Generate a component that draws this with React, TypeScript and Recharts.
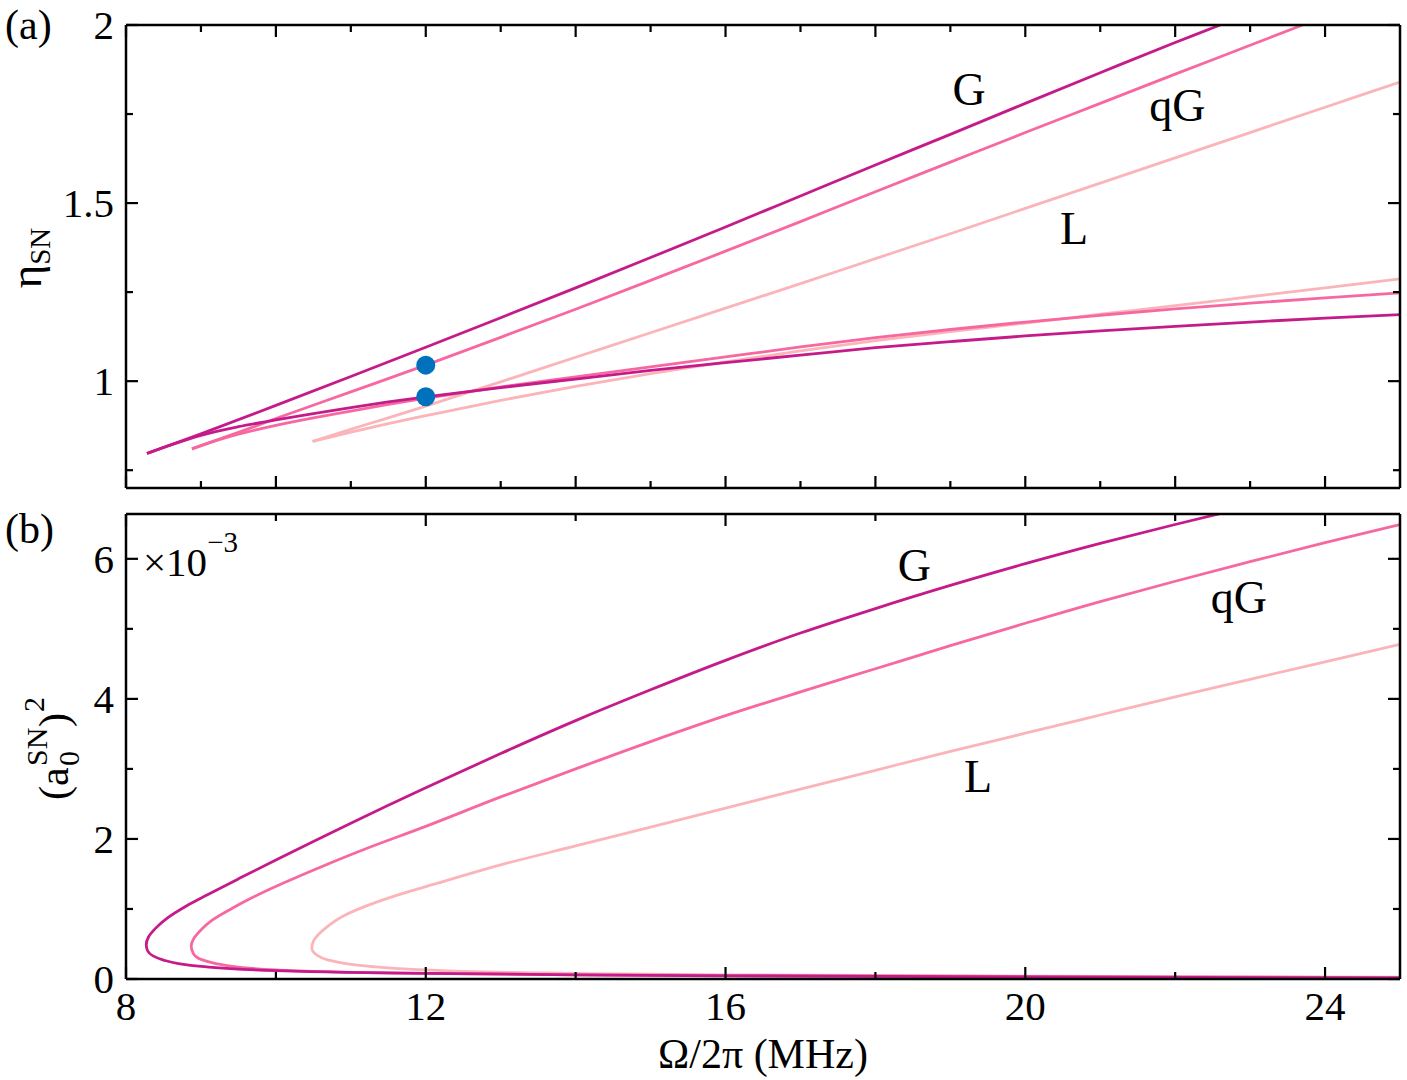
import React from 'react';
import { ComposedChart, Line, XAxis, YAxis, Scatter, ReferenceDot } from 'recharts';

const COL_G = '#C51B8A';
const COL_QG = '#F768A1';
const COL_L = '#FBB4B9';
const COL_DOT = '#0072BD';
const FONT = '"Liberation Serif", "DejaVu Serif", serif';

// ---- panel (a): eta_SN vs Omega/2pi (MHz), [omega, eta] ----
const etaGUpper: [number, number][] = [
  [8.28, 0.797], [9, 0.852], [10, 0.932], [11, 1.013], [12, 1.095], [13, 1.178], [14, 1.262],
  [15, 1.347], [16, 1.433], [17, 1.52], [18, 1.607], [19, 1.693], [20, 1.78], [21, 1.866],
  [22, 1.951], [22.6, 2.0], [23, 2.034],
];
const etaGLower: [number, number][] = [
  [8.28, 0.797], [8.6, 0.821], [9, 0.848], [9.5, 0.872], [10, 0.891], [10.5, 0.909], [11, 0.926],
  [11.5, 0.942], [12, 0.956], [13, 0.982], [14, 1.006], [15, 1.03], [16, 1.052], [17, 1.073],
  [18, 1.094], [19, 1.111], [20, 1.127], [21, 1.141], [22, 1.154], [23, 1.166], [24, 1.177], [25, 1.187],
];
const etaQGUpper: [number, number][] = [
  [8.88, 0.81], [9.5, 0.856], [10, 0.895], [11, 0.97], [12, 1.045], [13, 1.123], [14, 1.202],
  [15, 1.283], [16, 1.365], [17, 1.448], [18, 1.532], [19, 1.615], [20, 1.698], [21, 1.78],
  [22, 1.862], [23, 1.943], [23.7, 2.0], [24, 2.024],
];
const etaQGLower: [number, number][] = [
  [8.88, 0.81], [9.2, 0.833], [9.5, 0.851], [10, 0.876], [10.5, 0.897], [11, 0.916], [11.5, 0.935],
  [12, 0.952], [13, 0.984], [14, 1.012], [15, 1.04], [16, 1.068], [17, 1.096], [18, 1.122],
  [19, 1.145], [20, 1.166], [21, 1.185], [22, 1.203], [23, 1.219], [24, 1.234], [25, 1.248],
];
const etaLUpper: [number, number][] = [
  [10.49, 0.831], [11, 0.865], [11.5, 0.897], [12, 0.93], [13, 0.998], [14, 1.067], [15, 1.136],
  [16, 1.205], [17, 1.274], [18, 1.344], [19, 1.414], [20, 1.485], [21, 1.556], [22, 1.627],
  [23, 1.698], [24, 1.769], [25, 1.84],
];
const etaLLower: [number, number][] = [
  [10.49, 0.831], [11, 0.857], [11.5, 0.881], [12, 0.903], [13, 0.946], [14, 0.985], [15, 1.021],
  [16, 1.054], [17, 1.085], [18, 1.114], [19, 1.139], [20, 1.163], [21, 1.188], [22, 1.212],
  [23, 1.237], [24, 1.262], [25, 1.287],
];
const markedPoints: [number, number][] = [[12, 1.045], [12, 0.956]];

// ---- panel (b): (a0^SN)^2 in units of 1e-3, ordered by increasing amplitude ----
const ampGLower: [number, number][] = [
  [25, 0.015], [20, 0.03], [16, 0.045], [14, 0.06], [12, 0.08], [10, 0.12], [9, 0.18],
  [8.7, 0.22], [8.5, 0.27], [8.36, 0.33], [8.29, 0.4], [8.27, 0.49],
];
const ampGUpper: [number, number][] = [
  [8.3, 0.6], [8.4, 0.73], [8.55, 0.87], [8.8, 1.04], [9.1, 1.21], [9.5, 1.43], [10, 1.7],
  [10.5, 1.965], [11, 2.225], [11.5, 2.48], [12, 2.73], [13, 3.22], [14, 3.69], [15, 4.13],
  [16, 4.55], [17, 4.94], [18, 5.29], [19, 5.62], [20, 5.93], [21, 6.22], [22, 6.49], [23, 6.75],
];
const ampQGLower: [number, number][] = [
  [25, 0.02], [20, 0.035], [16, 0.05], [14, 0.06], [12, 0.08], [10.5, 0.11], [10, 0.13],
  [9.5, 0.17], [9.2, 0.22], [9, 0.28], [8.9, 0.36], [8.87, 0.47],
];
const ampQGUpper: [number, number][] = [
  [8.9, 0.57], [9, 0.7], [9.15, 0.84], [9.4, 1.0], [9.7, 1.17], [10.1, 1.37], [10.6, 1.6],
  [11.2, 1.86], [12, 2.18], [13, 2.6], [14, 3.0], [15, 3.39], [16, 3.76], [17, 4.1], [18, 4.43],
  [19, 4.76], [20, 5.08], [21, 5.39], [22, 5.68], [23, 5.96], [24, 6.23], [25, 6.49],
];
const ampLLower: [number, number][] = [
  [25, 0.025], [20, 0.04], [16, 0.06], [14, 0.08], [12.5, 0.11], [12, 0.13], [11.5, 0.16],
  [11, 0.21], [10.7, 0.27], [10.55, 0.34], [10.48, 0.44],
];
const ampLUpper: [number, number][] = [
  [10.5, 0.54], [10.57, 0.64], [10.7, 0.76], [10.9, 0.9], [11.2, 1.04], [11.6, 1.19], [12.1, 1.35],
  [13, 1.63], [14, 1.9], [15, 2.17], [16, 2.44], [17, 2.71], [18, 2.98], [19, 3.25], [20, 3.51],
  [21, 3.77], [22, 4.03], [23, 4.28], [24, 4.53], [25, 4.78],
];

// ticks
const omegaTicksA = [8, 9, 10, 11, 12, 13, 14, 15, 16, 17, 18, 19, 20, 21, 22, 23, 24];
const omegaTicksB = [8, 10, 12, 14, 16, 18, 20, 22, 24];
const etaTicks = [0.75, 1, 1.25, 1.5, 1.75, 2];
const ampTicks = [0, 1, 2, 3, 4, 5, 6];

// curve labels, [name, omega, value]
const labelsA: [string, number, number][] = [['G', 19.25, 1.82], ['qG', 22.03, 1.775], ['L', 20.65, 1.43]];
const labelsB: [string, number, number][] = [['G', 18.52, 5.91], ['qG', 22.85, 5.46], ['L', 19.37, 2.91]];

const pts = (a: [number, number][]) => a.map(([x, y]) => ({ x, y }));

const AXIS = { stroke: '#000', strokeWidth: 2.5 };
const MAJOR = 12;
const MINOR = 7;
const TICK_FONT = 41;

type Side = 'left' | 'right' | 'top' | 'bottom';

function tickRenderer(side: Side, isMajor: (v: number) => boolean, text?: (v: number) => string) {
  return (props: any) => {
    const { x, y, payload } = props;
    const v = payload.value;
    const len = isMajor(v) ? MAJOR : MINOR;
    const s = { stroke: '#000', strokeWidth: 2.2 };
    let ln = null;
    if (side === 'left') ln = <line x1={x} x2={x + len} y1={y} y2={y} {...s} />;
    if (side === 'right') ln = <line x1={x} x2={x - len} y1={y} y2={y} {...s} />;
    if (side === 'top') ln = <line x1={x} x2={x} y1={y} y2={y + len} {...s} />;
    if (side === 'bottom') ln = <line x1={x} x2={x} y1={y} y2={y - len} {...s} />;
    const label = text ? text(v) : '';
    let t = null;
    if (label && side === 'left') {
      t = <text x={x - 12} y={y + 14} textAnchor="end" fontSize={TICK_FONT} fontFamily={FONT} fill="#000">{label}</text>;
    }
    if (label && side === 'bottom') {
      t = <text x={x} y={y + 41} textAnchor="middle" fontSize={TICK_FONT} fontFamily={FONT} fill="#000">{label}</text>;
    }
    return <g>{ln}{t}</g>;
  };
}

const isInt = (v: number) => Math.abs(v - Math.round(v)) < 1e-6;
const axisCommon = { tickSize: 0, tickMargin: 0, tickLine: false, axisLine: AXIS, interval: 0 as const, allowDataOverflow: true, type: 'number' as const };

const curveLabel = { fontSize: 46, fontFamily: FONT, fill: '#000' };

const App = () => {
  const lineProps = { dataKey: 'y', dot: false, isAnimationActive: false, strokeWidth: 2.8, activeDot: false };
  return (
    <div style={{ position: 'absolute', left: 0, top: 0, width: 1407, height: 1080, background: '#fff', fontFamily: FONT }}>
      {/* panel (a) */}
      <div style={{ position: 'absolute', left: 0, top: 0 }}>
        <ComposedChart width={1407} height={500} margin={{ top: 24, right: 6, bottom: 11, left: 0 }}>
          <XAxis xAxisId="b" dataKey="x" domain={[8, 25]} ticks={omegaTicksA} height={1} {...axisCommon}
            tick={tickRenderer('bottom', (v) => v % 2 === 0)} />
          <XAxis xAxisId="t" dataKey="x" orientation="top" domain={[8, 25]} ticks={omegaTicksA} height={1} {...axisCommon}
            tick={tickRenderer('top', (v) => v % 2 === 0)} />
          <YAxis yAxisId="l" domain={[0.7, 2]} ticks={etaTicks} width={126} {...axisCommon}
            tick={tickRenderer('left', (v) => isInt(v * 2), (v) => (isInt(v * 2) ? String(v) : ''))} />
          <YAxis yAxisId="r" orientation="right" domain={[0.7, 2]} ticks={etaTicks} width={1} {...axisCommon}
            tick={tickRenderer('right', (v) => isInt(v * 2))} />

          <Line xAxisId="b" yAxisId="l" data={pts(etaLUpper)} type="monotone" stroke={COL_L} {...lineProps} />
          <Line xAxisId="b" yAxisId="l" data={pts(etaLLower)} type="monotone" stroke={COL_L} {...lineProps} />
          <Line xAxisId="b" yAxisId="l" data={pts(etaQGUpper)} type="monotone" stroke={COL_QG} {...lineProps} />
          <Line xAxisId="b" yAxisId="l" data={pts(etaQGLower)} type="monotone" stroke={COL_QG} {...lineProps} />
          <Line xAxisId="b" yAxisId="l" data={pts(etaGUpper)} type="monotone" stroke={COL_G} {...lineProps} />
          <Line xAxisId="b" yAxisId="l" data={pts(etaGLower)} type="monotone" stroke={COL_G} {...lineProps} />
          <Scatter xAxisId="b" yAxisId="l" data={pts(markedPoints)} dataKey="y" isAnimationActive={false}
            shape={(p: any) => <circle cx={p.cx} cy={p.cy} r={9.5} fill={COL_DOT} />} />
          {labelsA.map(([name, x, y]) => (
            <ReferenceDot key={name} xAxisId="b" yAxisId="l" x={x} y={y} r={0} stroke="none" label={{ value: name, ...curveLabel }} />
          ))}
        </ComposedChart>
      </div>

      {/* panel (b) */}
      <div style={{ position: 'absolute', left: 0, top: 500 }}>
        <ComposedChart width={1407} height={580} margin={{ top: 13, right: 6, bottom: 1, left: 0 }}>
          <XAxis xAxisId="b" dataKey="x" domain={[8, 25]} ticks={omegaTicksB} height={100} {...axisCommon}
            tick={tickRenderer('bottom', (v) => v % 4 === 0, (v) => (v % 4 === 0 ? String(v) : ''))} />
          <XAxis xAxisId="t" dataKey="x" orientation="top" domain={[8, 25]} ticks={omegaTicksB} height={1} {...axisCommon}
            tick={tickRenderer('top', (v) => v % 4 === 0)} />
          <YAxis yAxisId="l" domain={[0, 6.64]} ticks={ampTicks} width={126} {...axisCommon}
            tick={tickRenderer('left', (v) => v % 2 === 0, (v) => (v % 2 === 0 ? String(v) : ''))} />
          <YAxis yAxisId="r" orientation="right" domain={[0, 6.64]} ticks={ampTicks} width={1} {...axisCommon}
            tick={tickRenderer('right', (v) => v % 2 === 0)} />

          <Line xAxisId="b" yAxisId="l" data={pts([...ampLLower, ...ampLUpper])} type="monotoneY" stroke={COL_L} {...lineProps} />
          <Line xAxisId="b" yAxisId="l" data={pts([...ampQGLower, ...ampQGUpper])} type="monotoneY" stroke={COL_QG} {...lineProps} />
          <Line xAxisId="b" yAxisId="l" data={pts([...ampGLower, ...ampGUpper])} type="monotoneY" stroke={COL_G} {...lineProps} />
          {labelsB.map(([name, x, y]) => (
            <ReferenceDot key={name} xAxisId="b" yAxisId="l" x={x} y={y} r={0} stroke="none" label={{ value: name, ...curveLabel }} />
          ))}
        </ComposedChart>
      </div>

      {/* panel letters, axis titles, exponent */}
      <svg width={1407} height={1080} style={{ position: 'absolute', left: 0, top: 0, pointerEvents: 'none' }}>
        <g fontFamily={FONT} fill="#000">
          <text x={5} y={39} fontSize={42}>(a)</text>
          <text x={5} y={543} fontSize={42}>(b)</text>
          <g transform="translate(41,258) rotate(-90)">
            <text textAnchor="middle" fontSize={45}>η<tspan fontSize={29} dy={9}>SN</tspan></text>
          </g>
          <g transform="translate(68,746) rotate(-90)">
            <text x={-54} y={0} fontSize={42}>(a</text>
            <text x={-20} y={-21} fontSize={30}>SN</text>
            <text x={-20} y={11} fontSize={30}>0</text>
            <text x={19} y={0} fontSize={42}>)</text>
            <text x={34} y={-24} fontSize={30}>2</text>
          </g>
          <text x={143} y={576} fontSize={41}>×10<tspan fontSize={29} dy={-24}>−3</tspan></text>
          <text x={763} y={1068} textAnchor="middle" fontSize={42}>Ω/2π (MHz)</text>
        </g>
      </svg>
    </div>
  );
};

export default App;
